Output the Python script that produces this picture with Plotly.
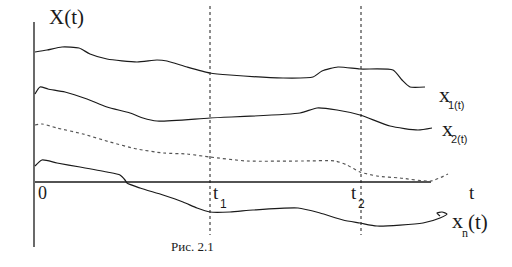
import plotly.graph_objects as go

# ---- data (t measured from the origin, values measured up from the t-axis) ----
t_x1 = [0, 12, 27, 44, 55, 72, 102, 122, 132, 152, 175, 195, 248, 278, 287, 303, 325, 358, 367, 375, 390]
v_x1 = [130, 132, 135, 134, 128, 123, 120, 122, 121, 115, 109, 107, 104, 105, 111, 115, 113, 112, 102, 95, 95]

t_x2 = [0, 5, 13, 30, 52, 72, 95, 108, 122, 175, 265, 282, 302, 325, 355, 383, 397]
v_x2 = [88, 95, 93, 90, 83, 75, 69, 64, 61, 64, 69, 74, 72, 67, 56, 52, 54]

t_mid = [0, 7, 22, 48, 75, 102, 128, 152, 175, 212, 268, 300, 312, 325, 342, 365, 396, 413]
v_mid = [57, 58, 54, 48, 40, 33, 29, 28, 25, 21, 21, 21, 17, 10, 6, 4, 1, 8]

t_xn = [0, 7, 22, 45, 72, 85, 90, 92, 105, 128, 148, 162, 175, 195, 218, 263, 285, 308, 325, 342, 388, 405, 412, 407, 402, 405]
v_xn = [16, 22, 19, 15, 10, 7, 2, -1, -6, -13, -20, -26, -30, -30, -28, -26, -31, -38, -41, -44, -41, -36, -32, -30, -31, -34]

t1, t2 = 175, 326
t_axis_end = 396
x_axis_top, x_axis_bottom = 160, -65
mark_top, mark_bottom = 176, -53

ink = "#1a1a1a"
serif = "Times New Roman, Liberation Serif, serif"
sans = "Arial, Liberation Sans, sans-serif"

fig = go.Figure()

# coordinate axes
fig.add_trace(go.Scatter(x=[-1, -1], y=[x_axis_top, x_axis_bottom], mode="lines",
                         line=dict(color=ink, width=1.3), hoverinfo="skip"))
fig.add_trace(go.Scatter(x=[0, t_axis_end], y=[0, 0], mode="lines",
                         line=dict(color=ink, width=1.3), hoverinfo="skip"))
# time markers
for tm in (t1, t2):
    fig.add_trace(go.Scatter(x=[tm, tm], y=[mark_top, mark_bottom], mode="lines",
                             line=dict(color=ink, width=1, dash="dot"), hoverinfo="skip"))

# realisations
for tt, vv in ((t_x1, v_x1), (t_x2, v_x2), (t_xn, v_xn)):
    fig.add_trace(go.Scatter(x=tt, y=vv, mode="lines",
                             line=dict(color=ink, width=1.2, shape="spline", smoothing=0.6),
                             hoverinfo="skip"))
fig.add_trace(go.Scatter(x=t_mid, y=v_mid, mode="lines",
                         line=dict(color="#555555", width=1.2, dash="dot", shape="spline", smoothing=0.6),
                         hoverinfo="skip"))

def label(text, x, y, size, family=serif, color=ink):
    fig.add_annotation(x=x, y=y, xref="x", yref="y", text=text, showarrow=False,
                       xanchor="center", yanchor="middle",
                       font=dict(family=family, size=size, color=color))

label("X(t)", 31, 165, 21)
label("0", 7, -11, 18)
label("t", 181, -10, 19)
label("1", 188, -22, 12, sans)
label("t", 319, -10, 19)
label("2", 326, -22, 12, sans)
label("t", 437, -10, 19)
label("x", 409, 88, 22)
label("1(t)", 421, 77, 11, sans)
label("x", 412, 54, 22)
label("2(t)", 424, 43, 11, sans)
label("x", 422, -38, 22)
label("n", 430, -51, 12, serif)
label("(t)", 443, -40, 21)
label("Рис. 2.1", 157, -64, 13)

fig.update_xaxes(visible=False, range=[-35, 477], fixedrange=True)
fig.update_yaxes(visible=False, range=[-85, 182], fixedrange=True)
fig.update_layout(width=512, height=267, margin=dict(l=0, r=0, t=0, b=0),
                  paper_bgcolor="white", plot_bgcolor="white", showlegend=False)

fig.write_html("out.html")
